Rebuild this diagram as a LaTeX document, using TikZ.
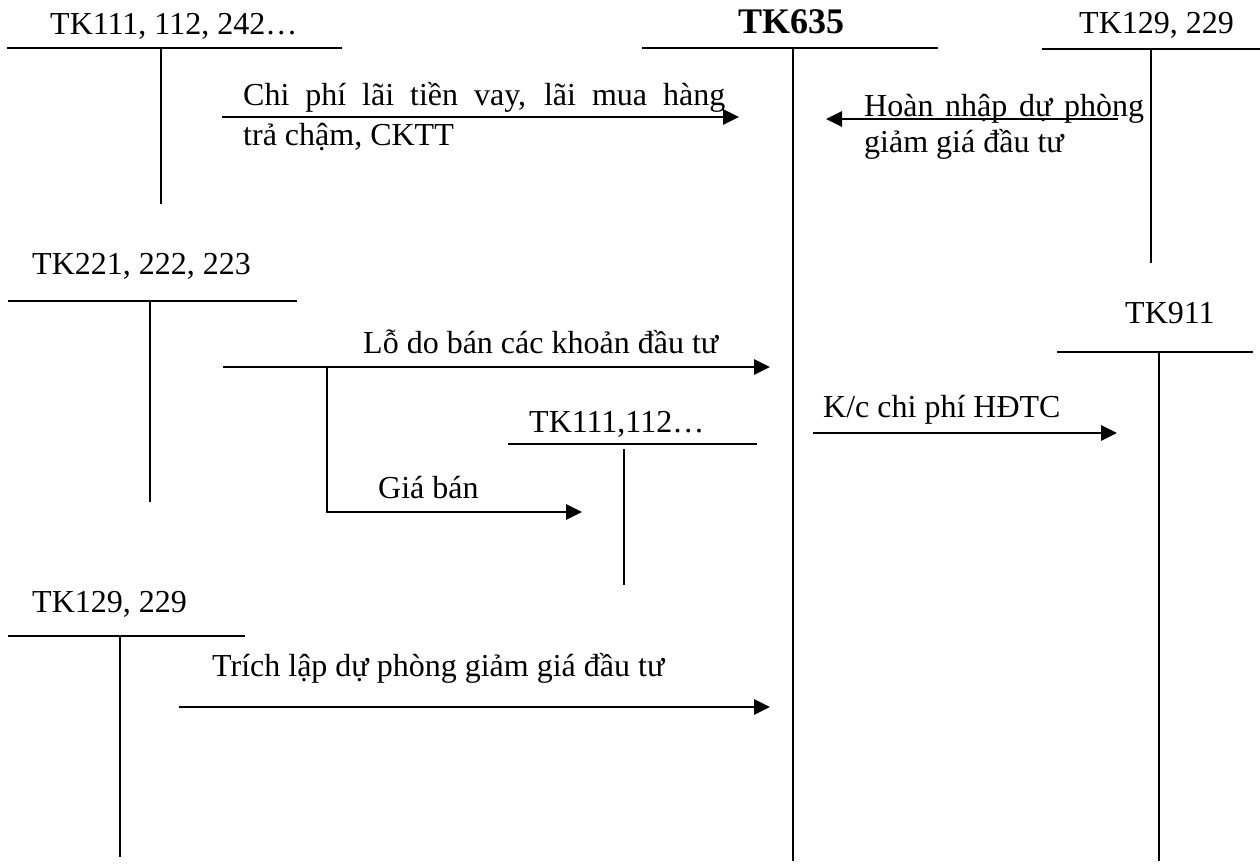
\documentclass[tikz,border=0pt]{standalone}
\usepackage{fontspec}
\setmainfont{Liberation Serif}
\usetikzlibrary{arrows.meta}
\begin{document}
\begin{tikzpicture}[x=1pt,y=-1pt,
  acct/.style={line width=1.7pt},
  flow/.style={line width=2.8pt,-{Triangle[length=16pt,width=15pt]}},
  lbl/.style={anchor=base west,inner sep=0pt,font=\fontsize{32}{37}\selectfont},
  ttl/.style={anchor=base west,inner sep=0pt,font=\fontsize{36}{42}\selectfont\bfseries}]
\useasboundingbox (0,0) rectangle (1260,863);
\fill[white] (0,0) rectangle (1260,863);

% account titles
\node[lbl] (t111) at (50,34) {TK111, 112, 242…};
\node[ttl] (t635) at (738,33) {TK635};
\node[lbl] (t129a) at (1079,33) {TK129, 229};
\node[lbl] (t221) at (32,274) {TK221, 222, 223};
\node[lbl] (t911) at (1125,323) {TK911};
\node[lbl] (t111b) at (529,432) {TK111,112…};
\node[lbl] (t129b) at (32,612) {TK129, 229};

% T accounts
\coordinate (a1l) at (7,48);   \coordinate (a1r) at (342,48);
\coordinate (a1t) at (161,48); \coordinate (a1b) at (161,204);
\draw[acct] (a1l) -- (a1r); \draw[acct] (a1t) -- (a1b);

\coordinate (a2l) at (642,48);  \coordinate (a2r) at (938,48);
\coordinate (a2t) at (793,48);  \coordinate (a2b) at (793,861);
\draw[acct] (a2l) -- (a2r); \draw[acct] (a2t) -- (a2b);

\coordinate (a3l) at (1042,49);  \coordinate (a3r) at (1260,49);
\coordinate (a3t) at (1151,49);  \coordinate (a3b) at (1151,263);
\draw[acct] (a3l) -- (a3r); \draw[acct] (a3t) -- (a3b);

\coordinate (a4l) at (8,301);   \coordinate (a4r) at (297,301);
\coordinate (a4t) at (150,301); \coordinate (a4b) at (150,502);
\draw[acct] (a4l) -- (a4r); \draw[acct] (a4t) -- (a4b);

\coordinate (a5l) at (1057,352);  \coordinate (a5r) at (1253,352);
\coordinate (a5t) at (1159,352);  \coordinate (a5b) at (1159,861);
\draw[acct] (a5l) -- (a5r); \draw[acct] (a5t) -- (a5b);

\coordinate (a6l) at (508,444);  \coordinate (a6r) at (757,444);
\coordinate (a6t) at (624,449);  \coordinate (a6b) at (624,585);
\draw[acct] (a6l) -- (a6r); \draw[acct] (a6t) -- (a6b);

\coordinate (a7l) at (8,636);   \coordinate (a7r) at (245,636);
\coordinate (a7t) at (120,636); \coordinate (a7b) at (120,857);
\draw[acct] (a7l) -- (a7r); \draw[acct] (a7t) -- (a7b);

% flows
\coordinate (f1s) at (222,117); \coordinate (f1e) at (739,117);
\draw[flow] (f1s) -- (f1e);
\node[lbl] (l1a) at (243,105) {\makebox[482pt][s]{Chi phí lãi tiền vay, lãi mua hàng}};
\node[lbl] (l1b) at (243,145) {trả chậm, CKTT};

\coordinate (f2s) at (1118,119); \coordinate (f2e) at (826,119);
\node[lbl] (l2a) at (864,116) {\makebox[280pt][s]{Hoàn nhập dự phòng}};
\node[lbl] (l2b) at (864,152) {giảm giá đầu tư};
\draw[flow] (f2s) -- (f2e);

\coordinate (f3s) at (223,367); \coordinate (f3e) at (770,367);
\coordinate (f3k) at (327,367); \coordinate (f3d) at (327,512);
\coordinate (f4e) at (582,512);
\draw[flow] (f3s) -- (f3e);
\draw[flow] (f3k) -- (f3d) -- (f4e);
\node[lbl] (l3) at (363,353) {Lỗ do bán các khoản đầu tư};
\node[lbl] (l4) at (378,498) {Giá bán};

\coordinate (f5s) at (813,433); \coordinate (f5e) at (1117,433);
\draw[flow] (f5s) -- (f5e);
\node[lbl] (l5) at (823,417) {K/c chi phí HĐTC};

\coordinate (f6s) at (179,707); \coordinate (f6e) at (770,707);
\draw[flow] (f6s) -- (f6e);
\node[lbl] (l6) at (212,676) {Trích lập dự phòng giảm giá đầu tư};
\end{tikzpicture}
\end{document}
